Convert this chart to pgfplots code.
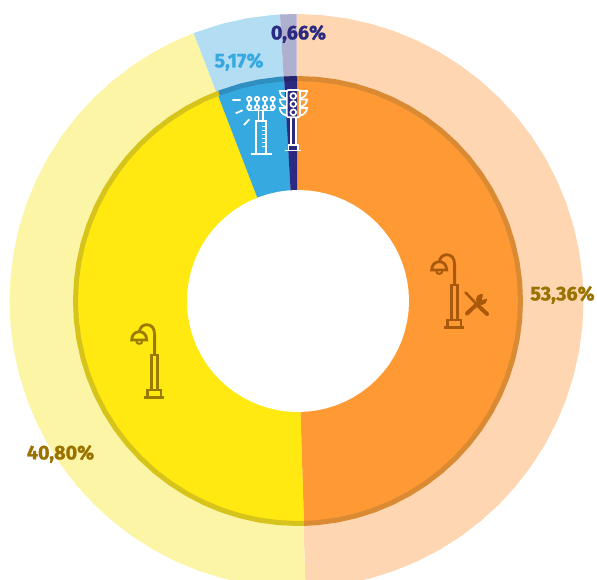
\documentclass[border=0pt]{standalone}
\usepackage{pgfplots}
\pgfplotsset{compat=1.18}
\usepgfplotslibrary{polar}
\usepackage{fontspec}
\setmainfont{Fira Sans}
\newfontfamily\labelfont[FakeBold=1.2]{Fira Sans Bold}
\definecolor{orangeA}{HTML}{FF9933}
\definecolor{orangeB}{HTML}{FFD6B2}
\definecolor{orangeC}{HTML}{D98A33}
\definecolor{yellowA}{HTML}{FFE911}
\definecolor{yellowB}{HTML}{FDF5A6}
\definecolor{yellowC}{HTML}{D6C41B}
\definecolor{blueA}{HTML}{36A9E1}
\definecolor{blueB}{HTML}{B3DDF3}
\definecolor{blueC}{HTML}{2E8FC0}
\definecolor{navyA}{HTML}{2B2A80}
\definecolor{navyB}{HTML}{AFAFD0}
\definecolor{navyC}{HTML}{25246C}
\definecolor{labelbrown}{HTML}{9A7200}
\definecolor{iconorange}{HTML}{A9590C}
\definecolor{iconyellow}{HTML}{9A7B00}
\tikzset{
  lamp/.pic={
    \draw[line width=2.8pt,pic actions] (-10,0)--(10,0);
    \draw[line width=2.8pt] (-6.7,0) rectangle (6.7,-7.7);
    \draw[line width=2.8pt] (-3,-7.7)--(-3,-42.7)--(3,-42.7)--(3,-7.7);
    \draw[line width=2.8pt] (0.3,-42.7)--(0.3,-63) .. controls (0.3,-70) and (-3,-73) .. (-7.6,-73) .. controls (-11,-73) and (-14,-71) .. (-15,-66);
    \draw[line width=2.8pt] (-22.6,-57.7) .. controls (-22.6,-63) and (-19,-66) .. (-15,-66) .. controls (-11,-66) and (-7.6,-63) .. (-7.6,-57.7) -- cycle;
    \draw[line width=2pt] (-18,-56.5) .. controls (-18,-53) and (-12,-53) .. (-12,-56.5);
  }
}
\begin{document}
\begin{tikzpicture}
\path[use as bounding box] (0,0) rectangle (597pt,580pt);
\begin{axis}[
  at={(0,0)}, anchor=south west,
  scale only axis, width=597pt, height=580pt,
  xmin=-297, xmax=300, ymin=-279, ymax=301,
  axis lines=none, clip=true, no markers, data cs=polar,
  ticks=none
]
% outer ring slices (angle, radius)
\addplot[fill=orangeB,draw=none,xshift=-0.5pt] coordinates {(0,0)(90,287)(85,287)(80,287)(75,287)(70,287)(65,287)(60,287)(55,287)(50,287)(45,287)(40,287)(35,287)(30,287)(25,287)(20,287)(15,287)(10,287)(5,287)(0,287)(-5,287)(-10,287)(-15,287)(-20,287)(-25,287)(-30,287)(-35,287)(-40,287)(-45,287)(-50,287)(-55,287)(-60,287)(-65,287)(-70,287)(-75,287)(-80,287)(-85,287)(-88.2,287)};
\addplot[fill=yellowB,draw=none,xshift=-0.5pt] coordinates {(0,0)(-88.2,287)(-90,287)(-95,287)(-100,287)(-105,287)(-110,287)(-115,287)(-120,287)(-125,287)(-130,287)(-135,287)(-140,287)(-145,287)(-150,287)(-155,287)(-160,287)(-165,287)(-170,287)(-175,287)(-180,287)(-185,287)(-190,287)(-195,287)(-200,287)(-205,287)(-210,287)(-215,287)(-220,287)(-225,287)(-230,287)(-235,287)(-240,287)(-245,287)(-249,287)};
\addplot[fill=blueB,draw=none,xshift=-0.5pt] coordinates {(0,0)(111,287)(105,287)(100,287)(95,287)(93.3,287)};
\addplot[fill=navyB,draw=none,xshift=-0.5pt] coordinates {(0,0)(93.3,287)(90,287)};
% inner ring slices
\addplot[fill=orangeA,draw=none] coordinates {(0,0)(90,223)(85,223)(80,223)(75,223)(70,223)(65,223)(60,223)(55,223)(50,223)(45,223)(40,223)(35,223)(30,223)(25,223)(20,223)(15,223)(10,223)(5,223)(0,223)(-5,223)(-10,223)(-15,223)(-20,223)(-25,223)(-30,223)(-35,223)(-40,223)(-45,223)(-50,223)(-55,223)(-60,223)(-65,223)(-70,223)(-75,223)(-80,223)(-85,223)(-88.2,223)};
\addplot[fill=yellowA,draw=none] coordinates {(0,0)(-88.2,223)(-90,223)(-95,223)(-100,223)(-105,223)(-110,223)(-115,223)(-120,223)(-125,223)(-130,223)(-135,223)(-140,223)(-145,223)(-150,223)(-155,223)(-160,223)(-165,223)(-170,223)(-175,223)(-180,223)(-185,223)(-190,223)(-195,223)(-200,223)(-205,223)(-210,223)(-215,223)(-220,223)(-225,223)(-230,223)(-235,223)(-240,223)(-245,223)(-249,223)};
\addplot[fill=blueA,draw=none] coordinates {(0,0)(111,223)(105,223)(100,223)(95,223)(93.3,223)};
\addplot[fill=navyA,draw=none] coordinates {(0,0)(93.3,223)(90,223)};
% darker edge of the inner ring
\addplot[draw=orangeC,line width=5pt,xshift=1pt] coordinates {(90.25,222.5)(85,222.5)(80,222.5)(75,222.5)(70,222.5)(65,222.5)(60,222.5)(55,222.5)(50,222.5)(45,222.5)(40,222.5)(35,222.5)(30,222.5)(25,222.5)(20,222.5)(15,222.5)(10,222.5)(5,222.5)(0,222.5)(-5,222.5)(-10,222.5)(-15,222.5)(-20,222.5)(-25,222.5)(-30,222.5)(-35,222.5)(-40,222.5)(-45,222.5)(-50,222.5)(-55,222.5)(-60,222.5)(-65,222.5)(-70,222.5)(-75,222.5)(-80,222.5)(-85,222.5)(-88.45,222.5)};
\addplot[draw=yellowC,line width=5pt,xshift=1pt] coordinates {(-88.45,222.5)(-90,222.5)(-95,222.5)(-100,222.5)(-105,222.5)(-110,222.5)(-115,222.5)(-120,222.5)(-125,222.5)(-130,222.5)(-135,222.5)(-140,222.5)(-145,222.5)(-150,222.5)(-155,222.5)(-160,222.5)(-165,222.5)(-170,222.5)(-175,222.5)(-180,222.5)(-185,222.5)(-190,222.5)(-195,222.5)(-200,222.5)(-205,222.5)(-210,222.5)(-215,222.5)(-220,222.5)(-225,222.5)(-230,222.5)(-235,222.5)(-240,222.5)(-245,222.5)(-249.2,222.5)};
\addplot[draw=blueC,line width=5pt,xshift=1pt] coordinates {(110.8,222.5)(105,222.5)(100,222.5)(95,222.5)(93.55,222.5)};
\addplot[draw=navyC,line width=5pt,xshift=1pt] coordinates {(93.55,222.5)(90.25,222.5)};
% hole
\addplot[fill=white,draw=none,xshift=1pt] coordinates {(0,111)(5,111)(10,111)(15,111)(20,111)(25,111)(30,111)(35,111)(40,111)(45,111)(50,111)(55,111)(60,111)(65,111)(70,111)(75,111)(80,111)(85,111)(90,111)(95,111)(100,111)(105,111)(110,111)(115,111)(120,111)(125,111)(130,111)(135,111)(140,111)(145,111)(150,111)(155,111)(160,111)(165,111)(170,111)(175,111)(180,111)(185,111)(190,111)(195,111)(200,111)(205,111)(210,111)(215,111)(220,111)(225,111)(230,111)(235,111)(240,111)(245,111)(250,111)(255,111)(260,111)(265,111)(270,111)(275,111)(280,111)(285,111)(290,111)(295,111)(300,111)(305,111)(310,111)(315,111)(320,111)(325,111)(330,111)(335,111)(340,111)(345,111)(350,111)(355,111)};
\end{axis}
\begin{scope}[shift={(0,580pt)},x=1pt,y=-1pt]
% labels
\node[font=\labelfont\fontsize{19.8}{22}\selectfont,text=labelbrown] at (562.5,295) {53,36\%};
\node[font=\labelfont\fontsize{19.8}{22}\selectfont,text=labelbrown] at (60.5,454) {40,80\%};
\node[font=\labelfont\fontsize{19.8}{22}\selectfont,text=blueA] at (239,62) {5,17\%};
\node[font=\labelfont\fontsize{19.8}{22}\selectfont,text=navyA] at (298.5,34) {0,66\%};
% lamp icons
\begin{scope}[draw=iconyellow,shift={(154.3,397.7)}]
\pic {lamp};
\end{scope}
\begin{scope}[draw=iconorange,shift={(454.3,327.7)},scale=0.94]
\pic {lamp};
\end{scope}
% tools icon
\begin{scope}[draw=iconorange,line cap=round]
\draw[line width=4pt] (477,304.5)--(487,314);
\draw[line width=2.6pt] (465.5,292.5)--(477,304.5);
\draw[line width=4pt] (467,313.5)--(481,300.5);
\fill[iconorange] (481.5,299.5) circle (5.6);
\fill[orangeA] (482,300)--(483.5,291)--(490.5,297.5)--cycle;
\end{scope}
% stadium light icon
\begin{scope}[draw=white,line width=1.7pt]
\foreach \x in {249.3,257,265,272.7}{\draw (\x,99) circle (2.2); \draw (\x,107.3) circle (2.2);}
\draw (249.3,101.2)--(249.3,105.1) (257,101.2)--(257,105.1) (265,101.2)--(265,105.1) (272.7,101.2)--(272.7,105.1);
\draw (249.3,109.5)--(249.3,110.5)--(272.7,110.5)--(272.7,109.5) (257,109.5)--(257,110.5) (265,109.5)--(265,110.5);
\draw (258.5,110.5)--(258.5,120.7) (263,110.5)--(263,120.7);
\draw (255.7,154)--(255.7,120.7)--(266,120.7)--(266,154);
\draw (250.7,154)--(272.3,154);
\foreach \y in {127,131,135,139,143,147}{\draw[line width=1pt] (262,\y)--(266,\y);}
\draw[line width=1.8pt] (232.3,100)--(240.7,100) (235.7,113.3)--(242.7,110.3) (244,125)--(249.3,119.3);
\end{scope}
% traffic light icon
\begin{scope}[draw=white,line width=1.7pt]
\draw[rounded corners=1.5pt] (286.7,90) rectangle (300,117.3);
\foreach \y in {96,104,112.3}{\draw (293.3,\y) circle (2.9);}
\draw (291,117.3)--(291,145) (295.7,117.3)--(295.7,145);
\draw (288.5,150)--(288.5,145)--(298.3,145)--(298.3,150);
\draw (285,150.5)--(301,150.5);
\foreach \y in {91,99.5,108}{
  \draw (286.7,\y) -- (279.7,\y) .. controls (280,\y+4) and (283,\y+7) .. (286.7,\y+7.5);
  \draw (300,\y) -- (307,\y) .. controls (306.7,\y+4) and (303.7,\y+7) .. (300,\y+7.5);
}
\end{scope}
\end{scope}
\end{tikzpicture}
\end{document}
